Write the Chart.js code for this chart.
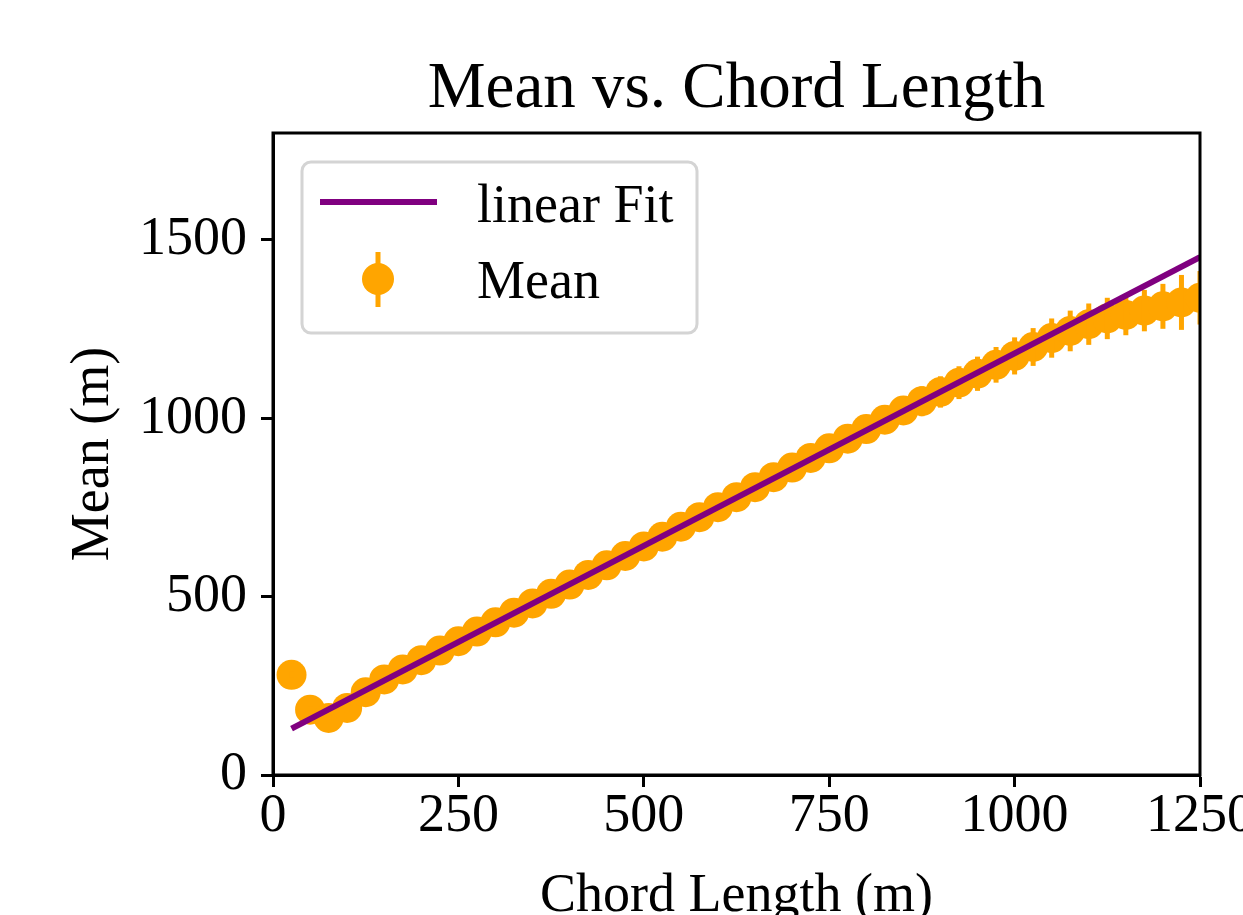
<!DOCTYPE html>
<html>
<head>
<meta charset="utf-8">
<title>Mean vs. Chord Length</title>
<script src="https://cdn.jsdelivr.net/npm/chart.js@4.4.1/dist/chart.umd.min.js"></script>
<style>
    html, body { margin: 0; padding: 0; background: #fff; }
    #wrap { width: 1243px; height: 915px; }
</style>
</head>
<body>
<div id="wrap"><canvas id="meanChart" width="1243" height="915"></canvas></div>
<script>
// Chord length bins (m)
var chordLengths = [
    25, 50, 75, 100, 125, 150, 175, 200, 225, 250,
    275, 300, 325, 350, 375, 400, 425, 450, 475, 500,
    525, 550, 575, 600, 625, 650, 675, 700, 725, 750,
    775, 800, 825, 850, 875, 900, 925, 950, 975, 1000,
    1025, 1050, 1075, 1100, 1125, 1150, 1175, 1200, 1225, 1250
];

// Mean value per bin (m)
var meanValues = [
    281, 183, 160, 188, 232, 268, 296, 322, 349, 375,
    402, 428, 455, 481, 508, 534, 561, 588, 614, 641,
    668, 696, 723, 751, 779, 807, 835, 862, 889, 916,
    943, 970, 996, 1022, 1048, 1074, 1100, 1125, 1150, 1175,
    1200, 1225, 1245, 1264, 1280, 1290, 1302, 1314, 1325, 1338
];

// Error (half length of the bar) per bin (m)
var meanErrors = [
    8, 10, 10, 12, 12, 14, 14, 15, 16, 17,
    18, 19, 20, 21, 22, 23, 24, 25, 26, 27,
    28, 29, 30, 31, 32, 33, 34, 35, 36, 37,
    37, 38, 39, 40, 42, 44, 46, 48, 50, 52,
    53, 55, 57, 58, 58, 57, 58, 63, 77, 75
];

// Linear fit end points
var fitX = [25, 1250];
var fitY = [130, 1452];

var xTicks = [0, 250, 500, 750, 1000, 1250];
var yTicks = [0, 500, 1000, 1500];

var orange = '#FFA500';
var purple = '#800080';
var serif = '"Liberation Serif", "DejaVu Serif", serif';

// Vertical error bars for the Mean dataset
var errorBarPlugin = {
    id: 'errorBars',
    afterDatasetDraw: function (chart, args) {
        if (args.index !== 1) return;
        var ctx = chart.ctx;
        var xs = chart.scales.x, ys = chart.scales.y, area = chart.chartArea;
        ctx.save();
        ctx.beginPath();
        ctx.rect(area.left, area.top, area.right - area.left, area.bottom - area.top);
        ctx.clip();
        ctx.strokeStyle = orange;
        ctx.lineWidth = 5;
        chordLengths.forEach(function (c, i) {
            var px = xs.getPixelForValue(c);
            ctx.beginPath();
            ctx.moveTo(px, ys.getPixelForValue(meanValues[i] - meanErrors[i]));
            ctx.lineTo(px, ys.getPixelForValue(meanValues[i] + meanErrors[i]));
            ctx.stroke();
        });
        ctx.restore();
    }
};

// Full box around the plot
var framePlugin = {
    id: 'frame',
    afterDraw: function (chart) {
        var ctx = chart.ctx, a = chart.chartArea;
        ctx.save();
        ctx.strokeStyle = '#000';
        ctx.lineWidth = 3;
        ctx.strokeRect(a.left, a.top, a.right - a.left, a.bottom - a.top);
        ctx.restore();
    }
};

// matplotlib style legend box in the upper left corner
var boxLegendPlugin = {
    id: 'boxLegend',
    afterDraw: function (chart) {
        var ctx = chart.ctx, a = chart.chartArea;
        var left = a.left + 29, top = a.top + 29;
        var sets = chart.data.datasets;
        ctx.save();
        ctx.fillStyle = 'rgba(255,255,255,0.8)';
        ctx.strokeStyle = '#d4d4d4';
        ctx.lineWidth = 3;
        ctx.beginPath();
        ctx.roundRect(left, top, 395, 171, 9);
        ctx.fill();
        ctx.stroke();

        // linear fit sample
        ctx.strokeStyle = sets[0].borderColor;
        ctx.lineWidth = 6;
        ctx.beginPath();
        ctx.moveTo(left + 18, top + 40);
        ctx.lineTo(left + 135, top + 40);
        ctx.stroke();

        // mean sample: marker with error bar
        ctx.strokeStyle = orange;
        ctx.lineWidth = 5;
        ctx.beginPath();
        ctx.moveTo(left + 76, top + 90);
        ctx.lineTo(left + 76, top + 145);
        ctx.stroke();
        ctx.fillStyle = orange;
        ctx.beginPath();
        ctx.arc(left + 76, top + 117, 16, 0, Math.PI * 2);
        ctx.fill();

        ctx.fillStyle = '#000';
        ctx.font = '54px ' + serif;
        ctx.textAlign = 'left';
        ctx.textBaseline = 'alphabetic';
        ctx.fillText(sets[0].label, left + 175, top + 60);
        ctx.fillText(sets[1].label, left + 175, top + 136);
        ctx.restore();
    }
};

function plainTick(value) {
    return String(value);
}

function initMeanChart() {
    var ctx = document.getElementById('meanChart').getContext('2d');
    var meanPoints = chordLengths.map(function (c, i) { return { x: c, y: meanValues[i] }; });
    var fitPoints = fitX.map(function (x, i) { return { x: x, y: fitY[i] }; });

    new Chart(ctx, {
        type: 'scatter',
        data: {
            datasets: [{
                label: 'linear Fit',
                data: fitPoints,
                showLine: true,
                borderColor: purple,
                borderWidth: 6,
                pointRadius: 0,
                order: 0
            }, {
                label: 'Mean',
                data: meanPoints,
                pointRadius: 15,
                pointBackgroundColor: orange,
                pointBorderWidth: 0,
                pointBorderColor: orange,
                order: 1
            }]
        },
        options: {
            responsive: false,
            animation: false,
            layout: {
                padding: { top: 0, left: 0, right: 43, bottom: 0 }
            },
            scales: {
                x: {
                    type: 'linear',
                    min: 0,
                    max: 1250,
                    afterBuildTicks: function (scale) {
                        scale.ticks = xTicks.map(function (v) { return { value: v }; });
                    },
                    afterFit: function (scale) {
                        scale.height = 140;
                        scale.paddingLeft = 0;
                        scale.paddingRight = 0;
                    },
                    border: { display: true, color: '#000', width: 3 },
                    grid: {
                        drawOnChartArea: false,
                        drawTicks: true,
                        tickLength: 12,
                        tickWidth: 3,
                        tickColor: '#000'
                    },
                    ticks: {
                        color: '#000',
                        padding: 0,
                        maxRotation: 0,
                        callback: plainTick,
                        font: { family: serif, size: 54, lineHeight: 1.1 }
                    },
                    title: {
                        display: true,
                        text: 'Chord Length (m)',
                        color: '#000',
                        padding: { top: 0, bottom: -9 },
                        font: { family: serif, size: 54, lineHeight: 1.0 }
                    }
                },
                y: {
                    type: 'linear',
                    min: 0,
                    max: 1800,
                    afterBuildTicks: function (scale) {
                        scale.ticks = yTicks.map(function (v) { return { value: v }; });
                    },
                    afterFit: function (scale) {
                        scale.width = 273;
                        scale.paddingTop = 0;
                        scale.paddingBottom = 0;
                    },
                    border: { display: true, color: '#000', width: 3 },
                    grid: {
                        drawOnChartArea: false,
                        drawTicks: true,
                        tickLength: 12,
                        tickWidth: 3,
                        tickColor: '#000'
                    },
                    ticks: {
                        color: '#000',
                        padding: 14,
                        callback: plainTick,
                        font: { family: serif, size: 54 }
                    },
                    title: {
                        display: true,
                        text: 'Mean (m)',
                        color: '#000',
                        padding: { top: 61, bottom: 0 },
                        font: { family: serif, size: 54, lineHeight: 1.2 }
                    }
                }
            },
            plugins: {
                title: {
                    display: true,
                    text: 'Mean vs. Chord Length',
                    color: '#000',
                    fullSize: false,
                    padding: { top: 51, bottom: 4 },
                    font: { family: serif, size: 65, weight: 'normal', lineHeight: 1.2 }
                },
                legend: { display: false },
                tooltip: { enabled: false }
            }
        },
        plugins: [errorBarPlugin, framePlugin, boxLegendPlugin]
    });
}

initMeanChart();
</script>
</body>
</html>
